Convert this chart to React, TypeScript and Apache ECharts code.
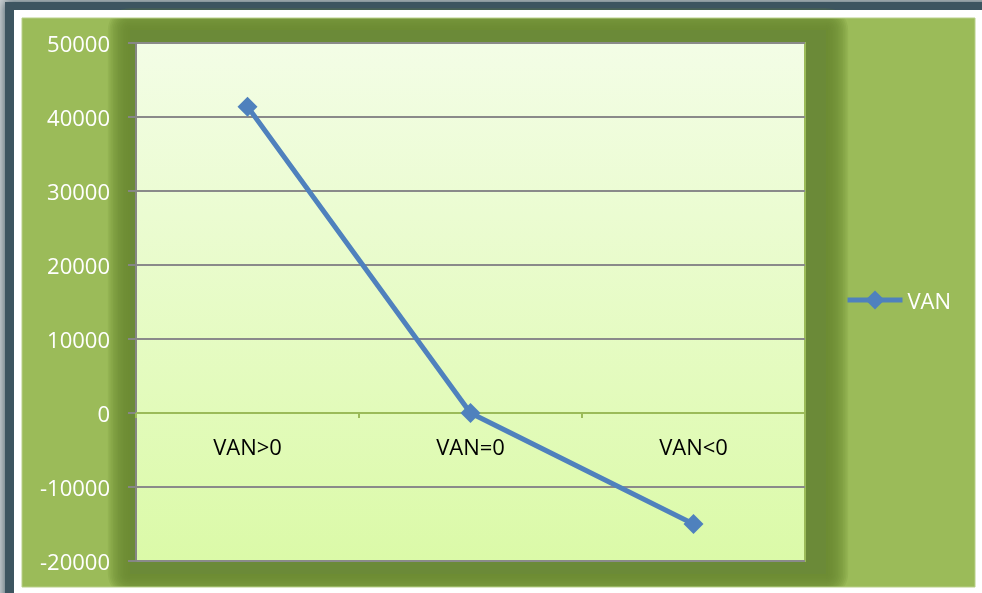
import React, { useEffect, useRef } from "react";
import * as echarts from "echarts";

const categories = ["VAN>0", "VAN=0", "VAN<0"];
const seriesName = "VAN";
const vanValues = [41400, 0, -15000];
const yMin = -20000;
const yMax = 50000;
const yInterval = 10000;

const FONT = "'Open Sans', 'Noto Sans', sans-serif";

const GRID_TOP = 43;
const GRID_BOTTOM = 32;
const CHART_H = 593;

function shadowLayers() {
  const layers: any[] = [];
  const core = { x1: 130, y1: 30, x2: 826, y2: 574 };
  const steps = 13;
  const step = 1.7;
  for (let i = steps; i >= 1; i--) {
    const d = i * step;
    layers.push({
      type: "rect", z: -96, silent: true,
      shape: { x: core.x1 - d, y: core.y1 - d, width: core.x2 - core.x1 + 2 * d, height: core.y2 - core.y1 + 2 * d, r: d },
      style: { fill: "rgba(104,135,52,0.16)" },
    });
  }
  layers.push({
    type: "rect", z: -96, silent: true,
    shape: { x: core.x1, y: core.y1, width: core.x2 - core.x1, height: core.y2 - core.y1 },
    style: { fill: "#6b8a38" },
  });
  return layers;
}

export default function App() {
  const ref = useRef<HTMLDivElement>(null);
  useEffect(() => {
    document.body.style.margin = "0";
    const chart = echarts.init(ref.current!, null, { renderer: "svg" });
    const plotH = CHART_H - GRID_TOP - GRID_BOTTOM;
    const zeroOffset = -((0 - yMin) / (yMax - yMin)) * plotH;
    chart.setOption({
      animation: false,
      graphic: [
        { type: "rect", z: -100, silent: true, shape: { x: 0, y: 0, width: 982, height: 593 }, style: { fill: "#c9cfd1" } },
        {
          type: "rect", z: -99, silent: true,
          shape: { x: 5, y: 2, width: 990, height: 600 },
          style: { fill: "#3e5560", shadowBlur: 10, shadowColor: "#3e5560" },
        },
        { type: "rect", z: -98, silent: true, shape: { x: 14, y: 10, width: 968, height: 583 }, style: { fill: "#ffffff" } },
        {
          type: "rect", z: -97, silent: true,
          shape: { x: 22, y: 18, width: 953, height: 569 },
          style: { fill: "#9BBB59" },
        },
        ...shadowLayers(),
        { type: "rect", z: -95, silent: true, shape: { x: 14, y: 10, width: 968, height: 8 }, style: { fill: "#ffffff" } },
        { type: "rect", z: -95, silent: true, shape: { x: 14, y: 587, width: 968, height: 6 }, style: { fill: "#ffffff" } },
        {
          type: "rect", z: -94, silent: true,
          shape: { x: 22, y: 18, width: 953, height: 569 },
          style: { fill: "none", stroke: "#b9d08a", lineWidth: 1 },
        },
      ],
      grid: {
        show: true,
        left: 136,
        top: GRID_TOP,
        right: 177,
        bottom: GRID_BOTTOM,
        containLabel: false,
        outerBoundsMode: "none",
        backgroundColor: new echarts.graphic.LinearGradient(0, 0, 0, 1, [
          { offset: 0, color: "#F3FDE6" },
          { offset: 1, color: "#DBFAA8" },
        ]),
        borderColor: "#9BBB59",
        borderWidth: 2,
      },
      legend: {
        data: [seriesName],
        left: 845,
        top: 289,
        padding: 0,
        orient: "vertical",
        itemWidth: 55,
        itemHeight: 24,
        itemGap: 5,
        lineStyle: { width: 5 },
        textStyle: { color: "#ffffff", fontSize: 22, fontFamily: FONT },
      },
      xAxis: {
        type: "category",
        data: categories,
        boundaryGap: true,
        offset: zeroOffset,
        axisLine: { onZero: false, lineStyle: { color: "#9BBB59", width: 2 } },
        axisTick: { show: true, length: 5, lineStyle: { color: "#9BBB59", width: 2 } },
        axisLabel: { color: "#000000", fontSize: 22, fontFamily: FONT, margin: 22 },
        splitLine: { show: false },
      },
      yAxis: {
        type: "value",
        min: yMin,
        max: yMax,
        interval: yInterval,
        axisLine: { show: true, onZero: false, lineStyle: { color: "#868686", width: 2 } },
        axisTick: { show: true, length: 8, lineStyle: { color: "#868686", width: 2 } },
        axisLabel: {
          color: "#ffffff",
          fontSize: 22,
          fontFamily: FONT,
          margin: 26,
          formatter: (v: number) => String(v),
        },
        splitLine: { show: true, lineStyle: { color: "#8a8a8a", width: 2 } },
      },
      series: [
        {
          name: seriesName,
          type: "line",
          data: vanValues,
          symbol: "diamond",
          symbolSize: 20,
          color: "#4F81BD",
          lineStyle: { color: "#4F81BD", width: 5 },
          itemStyle: { color: "#4F81BD" },
        },
      ],
    });
    return () => chart.dispose();
  }, []);
  return (
    <div
      ref={ref}
      style={{ position: "fixed", left: 0, top: 0, width: 982, height: 593 }}
    />
  );
}
